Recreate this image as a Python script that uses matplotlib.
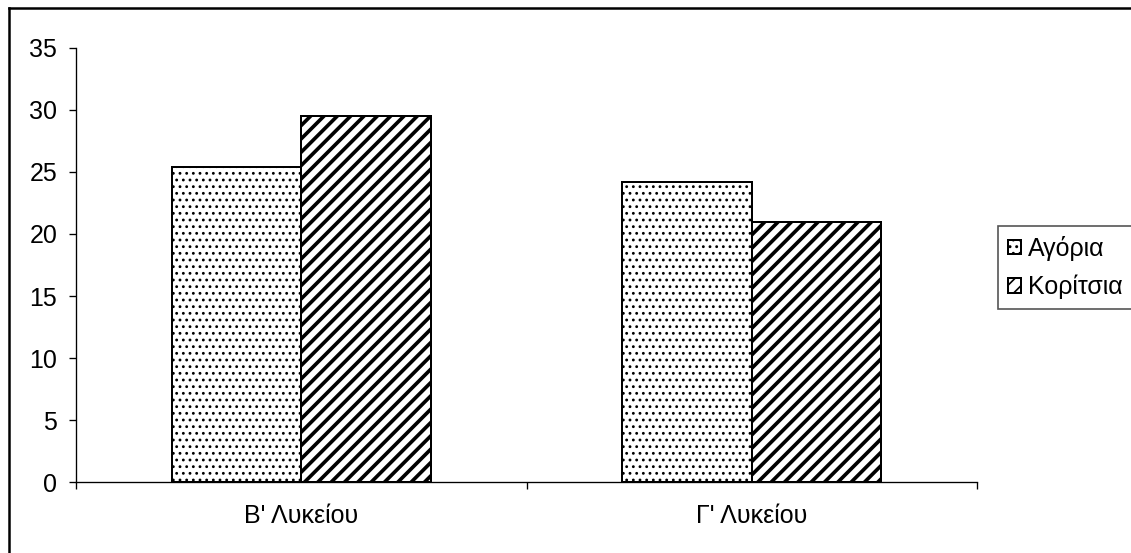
import numpy as np
import matplotlib
matplotlib.use('Agg')
import matplotlib.pyplot as plt
from matplotlib.lines import Line2D

plt.rcParams['font.family'] = ['Liberation Sans', 'DejaVu Sans']
plt.rcParams['font.size'] = 15

# Δεδομένα
classes = ["Β' Λυκείου", "Γ' Λυκείου"]
boys = [25.4, 24.2]
girls = [29.5, 21.0]
series_names = ['Αγόρια', 'Κορίτσια']
yticks = [0, 5, 10, 15, 20, 25, 30, 35]

fig = plt.figure(figsize=(1131 / 120, 553 / 120), dpi=120)
ax = fig.add_axes([76 / 1131, 1 - 482.3 / 553, (977 - 76) / 1131, (482.3 - 47.7) / 553])

x = np.arange(len(classes))
w = 0.288

with plt.rc_context({'hatch.linewidth': 0.9}):
    b1 = ax.bar(x - w / 2, boys, w, color='white', edgecolor='black',
                linewidth=1.2, hatch='...', label=series_names[0])
with plt.rc_context({'hatch.linewidth': 2.2}):
    b2 = ax.bar(x + w / 2, girls, w, color='white', edgecolor='black',
                linewidth=1.2, hatch='///', label=series_names[1])

for bars, lw in ((b1, 0.9), (b2, 2.2)):
    for p in bars:
        if hasattr(p, 'set_hatch_linewidth'):
            p.set_hatch_linewidth(lw)

ax.set_xlim(-0.5, len(classes) - 0.5)
ax.set_ylim(0, 35)
ax.set_yticks(yticks)
ax.tick_params(axis='y', direction='out', length=4.2, width=0.8, pad=7)

ax.set_xticks(x)
ax.set_xticklabels(classes)
ax.tick_params(axis='x', which='major', length=0, pad=13)
ax.set_xticks(np.arange(len(classes) + 1) - 0.5, minor=True)
ax.tick_params(axis='x', which='minor', direction='out', length=4.2, width=0.8)

for s in ('top', 'right'):
    ax.spines[s].set_visible(False)
for s in ('left', 'bottom'):
    ax.spines[s].set_linewidth(0.8)
    ax.spines[s].set_color('black')

leg = ax.legend(loc='upper left', bbox_to_anchor=(998 / 1131, 1 - 226 / 553),
                bbox_transform=fig.transFigure, borderaxespad=0, fancybox=False,
                framealpha=1, edgecolor='#555555', handlelength=0.5, handleheight=0.5,
                handletextpad=0.3, labelspacing=0.55, borderpad=0.4)
leg.get_frame().set_linewidth(1.0)

# πλαίσιο γραφήματος
fig.add_artist(Line2D([9 / 1131, 1.01], [1 - 8 / 553, 1 - 8 / 553],
                      transform=fig.transFigure, color='black', lw=1.5))
fig.add_artist(Line2D([9 / 1131, 9 / 1131], [1 - 8 / 553, -0.01],
                      transform=fig.transFigure, color='black', lw=1.5))

fig.savefig('out.png', dpi=120)
